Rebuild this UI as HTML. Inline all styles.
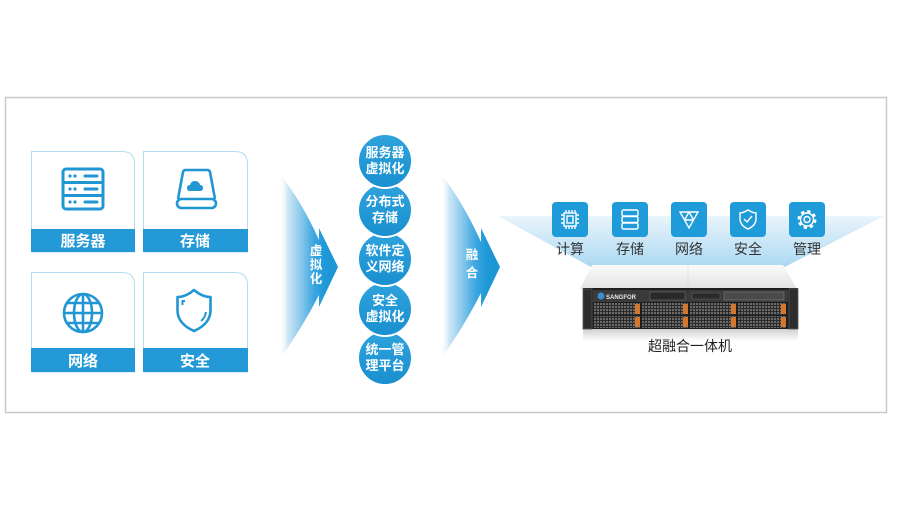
<!DOCTYPE html>
<html><head><meta charset="utf-8"><style>
html,body{margin:0;padding:0;background:#fff;}
svg{display:block;}
text{font-family:"Liberation Sans","Noto Sans CJK SC",sans-serif;}
</style></head><body>
<svg width="900" height="510" viewBox="0 0 900 510" xmlns="http://www.w3.org/2000/svg">
<defs>
<linearGradient id="ag1" gradientUnits="userSpaceOnUse" x1="279" y1="0" x2="338" y2="0">
<stop offset="0" stop-color="#ffffff" stop-opacity="0"/>
<stop offset="0.15" stop-color="#cfe8f6"/>
<stop offset="0.36" stop-color="#8cc9ec"/>
<stop offset="0.6" stop-color="#3aa6e0"/>
<stop offset="0.78" stop-color="#1f98d7"/>
<stop offset="1" stop-color="#1a94d4"/>
</linearGradient>
<linearGradient id="ag2" gradientUnits="userSpaceOnUse" x1="440" y1="0" x2="500" y2="0">
<stop offset="0" stop-color="#ffffff" stop-opacity="0"/>
<stop offset="0.15" stop-color="#cfe8f6"/>
<stop offset="0.36" stop-color="#8cc9ec"/>
<stop offset="0.6" stop-color="#3aa6e0"/>
<stop offset="0.78" stop-color="#1f98d7"/>
<stop offset="1" stop-color="#1a94d4"/>
</linearGradient>
<linearGradient id="fan" gradientUnits="userSpaceOnUse" x1="0" y1="205" x2="0" y2="272">
<stop offset="0" stop-color="#ffffff"/>
<stop offset="0.2" stop-color="#e6f3fb"/>
<stop offset="1" stop-color="#a6d6f1"/>
</linearGradient>
<linearGradient id="cg" x1="0" y1="0" x2="0" y2="1">
<stop offset="0" stop-color="#2ea3dd"/>
<stop offset="1" stop-color="#1a8fcf"/>
</linearGradient>
<linearGradient id="topface" x1="0" y1="0" x2="0" y2="1">
<stop offset="0" stop-color="#fbfbfb"/>
<stop offset="1" stop-color="#e2e2e2"/>
</linearGradient>
<linearGradient id="refl" x1="0" y1="0" x2="0" y2="1">
<stop offset="0" stop-color="#cfcfcf"/>
<stop offset="1" stop-color="#ffffff"/>
</linearGradient>
<pattern id="mesh" width="3" height="3" patternUnits="userSpaceOnUse">
<rect width="3" height="3" fill="#2b2b2b"/>
<rect width="2" height="2" fill="#6a6a6a"/>
</pattern>
</defs>

<!-- frame -->
<rect x="5.5" y="97.5" width="881" height="315" fill="#fff" stroke="#c9c9c9" stroke-width="1.5"/>

<!-- cards -->
<g stroke="#b3dcf2" stroke-width="1" fill="#fff">
<path d="M31.5,151.5 H122 Q134.5,151.5 134.5,164 V252 H31.5 Z"/>
<path d="M143.5,151.5 H235 Q247.5,151.5 247.5,164 V252 H143.5 Z"/>
<path d="M31.5,272.5 H122 Q134.5,272.5 134.5,285 V372 H31.5 Z"/>
<path d="M143.5,272.5 H235 Q247.5,272.5 247.5,285 V372 H143.5 Z"/>
</g>
<g fill="#239ad7">
<rect x="31" y="229" width="104" height="23"/>
<rect x="143" y="229" width="105" height="23"/>
<rect x="31" y="348" width="104" height="24"/>
<rect x="143" y="348" width="105" height="24"/>
</g>
<g fill="#fff" font-size="15" font-weight="bold" text-anchor="middle">
<text x="83" y="246">服务器</text>
<text x="195" y="246">存储</text>
<text x="83" y="366">网络</text>
<text x="195" y="366">安全</text>
</g>

<!-- server icon -->
<g stroke="#2196d3" stroke-width="3" fill="none">
<rect x="63" y="169" width="40" height="40" rx="3"/>
<line x1="63" y1="182.5" x2="103" y2="182.5"/>
<line x1="63" y1="195.5" x2="103" y2="195.5"/>
<line x1="85" y1="176" x2="97" y2="176" stroke-linecap="round"/>
<line x1="85" y1="189" x2="97" y2="189" stroke-linecap="round"/>
<line x1="85" y1="202" x2="97" y2="202" stroke-linecap="round"/>
</g>
<g fill="#2196d3">
<circle cx="70" cy="176" r="1.6"/><circle cx="75" cy="176" r="1.6"/>
<circle cx="70" cy="189" r="1.6"/><circle cx="75" cy="189" r="1.6"/>
<circle cx="70" cy="202" r="1.6"/><circle cx="75" cy="202" r="1.6"/>
</g>

<!-- storage icon -->
<g stroke="#2196d3" stroke-width="2.6" fill="none" stroke-linejoin="round">
<path d="M178,199 L183,172 Q183.5,170 186,170 H207 Q209.5,170 210,172 L215,199"/>
<rect x="177" y="199" width="39" height="9" rx="4.5"/>
</g>
<path d="M190,191 Q187,191 187,188 Q187,185 190,185 Q191,181 195,181 Q199,181 200,185 Q203,185 203,188 Q203,191 200,191 Z" fill="#2196d3"/>

<!-- globe icon -->
<g stroke="#2196d3" stroke-width="2.6" fill="none">
<circle cx="83" cy="313" r="19"/>
<ellipse cx="83" cy="313" rx="9" ry="19"/>
<line x1="83" y1="294" x2="83" y2="332"/>
<line x1="64" y1="313" x2="102" y2="313"/>
<path d="M67,303 H99"/>
<path d="M67,323 H99"/>
</g>

<!-- shield icon -->
<g stroke="#2196d3" stroke-width="2.6" fill="none" stroke-linejoin="round">
<path d="M194,290 Q186,297 177.5,297 L177.5,311 Q178,324 194,331 Q210,324 210.5,311 L210.5,297 Q202,297 194,290 Z"/>
<path d="M182.5,305 V301 H185" stroke-width="2"/>
<path d="M206,312 Q205,318 201,321" stroke-width="2"/>
</g>

<!-- arrow 1 -->
<path d="M279,173 Q301,200 319,240 L319,228 L338,267 L319,307 L319,295 Q301,330 279,360 Z" fill="url(#ag1)"/>
<g fill="#fff" font-size="12.5" font-weight="bold" text-anchor="middle">
<text x="316" y="255">虚</text>
<text x="316" y="269">拟</text>
<text x="316" y="283">化</text>
</g>

<!-- arrow 2 -->
<path d="M440,173 Q462,200 481,242 L481,228 L500,267 L481,307 L481,293 Q462,330 440,360 Z" fill="url(#ag2)"/>
<g fill="#fff" font-size="12.5" font-weight="bold" text-anchor="middle">
<text x="472" y="259">融</text>
<text x="472" y="277">合</text>
</g>

<!-- circles -->
<g stroke="#fff" stroke-width="2" fill="url(#cg)">
<circle cx="385" cy="358" r="27"/>
<circle cx="385" cy="309" r="27"/>
<circle cx="385" cy="259" r="27"/>
<circle cx="385" cy="210" r="27"/>
<circle cx="385" cy="161" r="27"/>
</g>
<g fill="#fff" font-size="13" font-weight="bold" text-anchor="middle">
<text x="385" y="157">服务器</text>
<text x="385" y="173">虚拟化</text>
<text x="385" y="206">分布式</text>
<text x="385" y="222">存储</text>
<text x="385" y="255">软件定</text>
<text x="385" y="271">义网络</text>
<text x="385" y="305">安全</text>
<text x="385" y="321">虚拟化</text>
<text x="385" y="354">统一管</text>
<text x="385" y="370">理平台</text>
</g>

<!-- fan -->
<polygon points="498,216 884,216 775,272 600,272" fill="url(#fan)"/>

<!-- right icons -->
<g fill="#1f9bd9">
<rect x="552" y="202" width="36" height="35" rx="4"/>
<rect x="612" y="202" width="36" height="35" rx="4"/>
<rect x="671" y="202" width="36" height="35" rx="4"/>
<rect x="730" y="202" width="36" height="35" rx="4"/>
<rect x="789" y="202" width="36" height="35" rx="4"/>
</g>
<g stroke="#fff" stroke-width="1.4" fill="none">
<rect x="564" y="213" width="12" height="13"/>
<rect x="567" y="216" width="6" height="7"/>
<path d="M566,210 V213 M569,210 V213 M572,210 V213 M575,210 V213 M566,226 V229 M569,226 V229 M572,226 V229 M575,226 V229 M561,215 H564 M561,219 H564 M561,223 H564 M576,215 H579 M576,219 H579 M576,223 H579"/>
<rect x="622" y="210" width="16" height="6" rx="1.5"/>
<rect x="622" y="216.5" width="16" height="6" rx="1.5"/>
<rect x="622" y="223" width="16" height="6" rx="1.5"/>
<path d="M680,212 H698 L689,228 Z M684.5,220 H693.5 M689,212 L684.5,220 M689,212 L693.5,220"/>
<path d="M748,210 Q743,213 740,213 V220 Q741,226 748,229 Q755,226 756,220 V213 Q753,213 748,210 Z"/>
<path d="M744,219 L747,222 L752,216"/>
<circle cx="807" cy="219.5" r="3"/>
<circle cx="807" cy="219.5" r="6.5"/>
</g>
<circle cx="807" cy="219.5" r="8" fill="none" stroke="#fff" stroke-width="3" stroke-dasharray="3.2 3.08"/>
<g fill="#333" font-size="14" text-anchor="middle">
<text x="570" y="254">计算</text>
<text x="630" y="254">存储</text>
<text x="689" y="254">网络</text>
<text x="748" y="254">安全</text>
<text x="807" y="254">管理</text>
</g>

<!-- server -->
<polygon points="592,265 783,265 797,289 580,289" fill="url(#topface)"/>
<line x1="688" y1="266" x2="688" y2="289" stroke="#e0e0e0" stroke-width="1"/>
<rect x="583" y="329" width="215" height="12" fill="url(#refl)"/>
<rect x="583" y="288" width="215" height="41" fill="#1e1e1e"/>
<rect x="583" y="289" width="9" height="40" fill="#2d2d2d" stroke="#555" stroke-width="0.8"/>
<rect x="789" y="289" width="9" height="40" fill="#2d2d2d" stroke="#555" stroke-width="0.8"/>
<rect x="593" y="290" width="195" height="12" fill="#3a3a3a"/>
<circle cx="601" cy="296" r="3.5" fill="#3d8fc9"/>
<text x="606" y="299" font-size="6" font-weight="bold" fill="#e8e8e8">SANGFOR</text>
<rect x="650" y="292" width="35" height="8" fill="#2a2a2a" stroke="#777" stroke-width="0.5"/>
<rect x="692" y="293" width="28" height="6" fill="#2a2a2a" stroke="#666" stroke-width="0.5"/>
<rect x="724" y="292" width="60" height="8" fill="#4a4a4a" stroke="#888" stroke-width="0.5"/>
<g>
<rect x="594" y="303" width="46" height="12" fill="url(#mesh)"/>
<rect x="642" y="303" width="46" height="12" fill="url(#mesh)"/>
<rect x="690" y="303" width="46" height="12" fill="url(#mesh)"/>
<rect x="738" y="303" width="48" height="12" fill="url(#mesh)"/>
<rect x="594" y="316" width="46" height="12" fill="url(#mesh)"/>
<rect x="642" y="316" width="46" height="12" fill="url(#mesh)"/>
<rect x="690" y="316" width="46" height="12" fill="url(#mesh)"/>
<rect x="738" y="316" width="48" height="12" fill="url(#mesh)"/>
</g>
<g fill="#d4772e">
<rect x="635" y="304" width="5" height="10"/>
<rect x="683" y="304" width="5" height="10"/>
<rect x="731" y="304" width="5" height="10"/>
<rect x="781" y="304" width="5" height="10"/>
<rect x="635" y="317" width="5" height="10"/>
<rect x="683" y="317" width="5" height="10"/>
<rect x="731" y="317" width="5" height="10"/>
<rect x="781" y="317" width="5" height="10"/>
</g>
<text x="690" y="351" font-size="14" fill="#222" text-anchor="middle">超融合一体机</text>
</svg>
</body></html>
